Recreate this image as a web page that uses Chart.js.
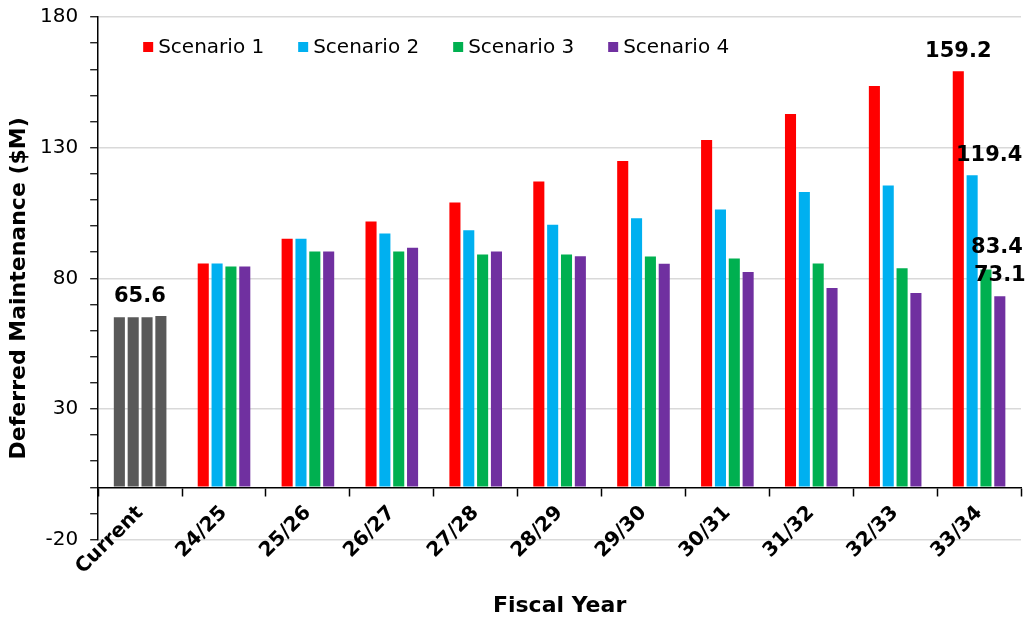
<!DOCTYPE html>
<html>
<head>
<meta charset="utf-8">
<script src="https://cdn.jsdelivr.net/npm/chart.js@4.4.0/dist/chart.umd.min.js"></script>
<style>
  html, body { margin: 0; padding: 0; background: #fff; }
  #wrap { width: 1030px; height: 621px; }
</style>
</head>
<body>
<div id="wrap"><canvas id="chart" width="1030" height="621"></canvas></div>
<script>
const categories = ['Current', '24/25', '25/26', '26/27', '27/28', '28/29', '29/30', '30/31', '31/32', '32/33', '33/34'];
const seriesNames = ['Scenario 1', 'Scenario 2', 'Scenario 3', 'Scenario 4'];
const scenario1 = [65.1, 85.7, 95.1, 101.7, 109.0, 117.0, 124.9, 132.9, 142.9, 153.6, 159.2];
const scenario2 = [65.1, 85.7, 95.1, 97.1, 98.4, 100.5, 103.0, 106.3, 113.0, 115.5, 119.4];
const scenario3 = [65.1, 84.5, 90.3, 90.3, 89.1, 89.1, 88.3, 87.6, 85.7, 83.8, 83.4];
const scenario4 = [65.6, 84.5, 90.3, 91.7, 90.3, 88.4, 85.6, 82.4, 76.3, 74.4, 73.1];
const seriesColors = ['#FF0000', '#00B0F0', '#00B050', '#7030A0'];
const currentColor = '#595959';
const yMin = -20, yMax = 180;
const yTitle = 'Deferred Maintenance ($M)';

// which bars get a value label, and where the label sits relative to the bar top
const labelSpots = [
  { ds: 3, i: 0, dx: -21, dy: -19 },
  { ds: 0, i: 10, dx: 0, dy: -20 },
  { ds: 1, i: 10, dx: 17, dy: -20 },
  { ds: 2, i: 10, dx: 11, dy: -22 },
  { ds: 3, i: 10, dx: 0, dy: -21 }
];

const FONT = "'DejaVu Sans', Verdana, sans-serif";

const allSeries = [scenario1, scenario2, scenario3, scenario4];
const datasets = allSeries.map((vals, k) => ({
  label: seriesNames[k],
  data: vals,
  backgroundColor: vals.map((v, i) => i === 0 ? currentColor : seriesColors[k]),
  borderWidth: 0,
  categoryPercentage: 0.66,
  barPercentage: 0.8
}));

const valueLabels = {
  id: 'valueLabels',
  afterDatasetsDraw(chart) {
    const ctx = chart.ctx;
    ctx.save();
    ctx.font = 'bold 21px ' + FONT;
    ctx.fillStyle = '#000';
    ctx.textAlign = 'center';
    ctx.textBaseline = 'middle';
    labelSpots.forEach(s => {
      const bar = chart.getDatasetMeta(s.ds).data[s.i];
      const v = chart.data.datasets[s.ds].data[s.i];
      ctx.fillText(v.toFixed(1), bar.x + s.dx, bar.y + s.dy);
    });
    ctx.restore();
  }
};

// legend drawn inside the plot area, top left, plus the y axis title
const extras = {
  id: 'extras',
  afterDraw(chart) {
    const ctx = chart.ctx;
    const a = chart.chartArea;
    ctx.save();
    ctx.font = '20px ' + FONT;
    ctx.textBaseline = 'middle';
    ctx.textAlign = 'left';
    seriesNames.forEach((name, k) => {
      const tx = a.left + 60 + k * 155;
      const ty = a.top + 30;
      ctx.fillStyle = seriesColors[k];
      ctx.fillRect(tx - 15, ty - 5, 10, 10);
      ctx.fillStyle = '#000';
      ctx.fillText(name, tx, ty + 1);
    });
    ctx.translate(19, (a.top + a.bottom) / 2 + 10);
    ctx.rotate(-Math.PI / 2);
    ctx.textAlign = 'center';
    ctx.font = 'bold 22px ' + FONT;
    ctx.fillText(yTitle, 0, 0);
    ctx.restore();
  }
};

new Chart(document.getElementById('chart'), {
  type: 'bar',
  data: { labels: categories, datasets: datasets },
  plugins: [valueLabels, extras],
  options: {
    responsive: false,
    animation: false,
    layout: { padding: { left: 28, right: 9, top: 17, bottom: 2 } },
    plugins: {
      legend: { display: false },
      tooltip: { enabled: false },
      title: {
        display: true,
        text: 'Fiscal Year',
        position: 'bottom',
        fullSize: false,
        color: '#000',
        font: { family: FONT, size: 22, weight: 'bold' },
        padding: { top: 53, bottom: 0 }
      }
    },
    scales: {
      x: {
        position: { y: 0 },
        grid: {
          offset: true,
          drawOnChartArea: false,
          drawTicks: true,
          tickLength: 8,
          tickColor: '#000',
          tickWidth: 1.5
        },
        border: { display: true, color: '#000', width: 1.5 },
        ticks: {
          color: '#000',
          font: { family: FONT, size: 20, weight: 'bold' },
          maxRotation: 45,
          minRotation: 45,
          autoSkip: false,
          padding: 6
        }
      },
      y: {
        min: yMin,
        max: yMax,
        grid: {
          color: c => ((c.tick.value - yMin) % 50 === 0) ? '#d9d9d9' : 'rgba(0,0,0,0)',
          lineWidth: 1.5,
          tickLength: 8,
          tickColor: '#000',
          tickWidth: 1.2
        },
        border: { display: true, color: '#000', width: 1.5 },
        ticks: {
          stepSize: 10,
          autoSkip: false,
          color: '#000',
          padding: 12,
          font: { family: FONT, size: 20, lineHeight: 0.1 },
          callback: v => ((v - yMin) % 50 === 0) ? v : ''
        }
      }
    }
  }
});
</script>
</body>
</html>
